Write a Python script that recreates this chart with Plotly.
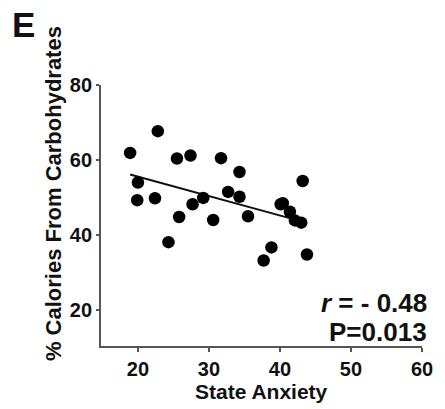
import numpy as np
import plotly.graph_objects as go

# State anxiety score vs. share of calories from carbohydrates, one point per subject
anxiety = [18.9, 22.8, 20.0, 19.9, 22.4, 25.5, 27.4, 25.8, 24.3, 27.7,
           29.2, 30.6, 31.7, 32.7, 34.3, 34.3, 35.5, 37.7, 38.8, 40.1,
           40.4, 41.4, 42.1, 43.0, 43.2, 43.8]
carbs = [61.9, 67.7, 54.0, 49.3, 49.8, 60.4, 61.2, 44.8, 38.1, 48.2,
         49.9, 44.0, 60.5, 51.5, 56.8, 50.2, 45.0, 33.2, 36.7, 48.2,
         48.5, 46.2, 43.9, 43.3, 54.4, 34.8]

x_ticks = [20, 30, 40, 50, 60]
y_ticks = [20, 40, 60, 80]

panel_label = "E"
x_title = "State Anxiety"
y_title = "% Calories From Carbohydrates"
r_text = "<i>r</i> = - 0.48"
p_text = "P=0.013"

# least-squares line over the observed range
slope, intercept = np.polyfit(anxiety, carbs, 1)
fit_x = np.array([min(anxiety), max(anxiety)])
fit_y = slope * fit_x + intercept

FONT = "Liberation Sans, Arial, sans-serif"
AXIS_COLOR = "#555555"

fig = go.Figure()
fig.add_trace(go.Scatter(
    x=fit_x, y=fit_y, mode="lines",
    line=dict(color="#111111", width=2), hoverinfo="skip", showlegend=False,
))
fig.add_trace(go.Scatter(
    x=anxiety, y=carbs, mode="markers",
    marker=dict(color="#000000", size=12.5, line=dict(width=0)),
    showlegend=False,
))

fig.update_layout(
    width=445, height=409,
    margin=dict(l=101, r=13, t=85, b=63),
    paper_bgcolor="white", plot_bgcolor="white",
    font=dict(family=FONT, color="#111111"),
    xaxis=dict(
        range=[14.8, 60], tickvals=x_ticks, showgrid=False, zeroline=False,
        showline=True, linecolor=AXIS_COLOR, linewidth=1.8,
        ticks="outside", ticklen=4, tickwidth=1.5, tickcolor=AXIS_COLOR,
        tickfont=dict(size=20, family=FONT, weight="bold", color="#111111"),
    ),
    yaxis=dict(
        range=[10.4, 80], tickvals=y_ticks, showgrid=False, zeroline=False,
        showline=True, linecolor=AXIS_COLOR, linewidth=1.8,
        ticks="outside", ticklen=3, tickwidth=1.5, tickcolor=AXIS_COLOR,
        tickfont=dict(size=20, family=FONT, weight="bold", color="#111111"),
    ),
)

text_font = dict(family=FONT, weight="bold", color="#111111")
fig.add_annotation(text=panel_label, xref="paper", yref="paper",
                   x=-0.285, y=1.232, xanchor="left", yanchor="middle",
                   showarrow=False, font=dict(size=35, **text_font))
fig.add_annotation(text=y_title, xref="paper", yref="paper",
                   x=-0.148, y=0.584, xanchor="center", yanchor="middle",
                   textangle=-90, showarrow=False, font=dict(size=22, **text_font))
fig.add_annotation(text=x_title, xref="paper", yref="paper",
                   x=0.5, y=-0.176, xanchor="center", yanchor="middle",
                   showarrow=False, font=dict(size=21, **text_font))
fig.add_annotation(text=r_text, xref="paper", yref="paper",
                   x=1.022, y=0.163, xanchor="right", yanchor="middle",
                   showarrow=False, font=dict(size=26, **text_font))
fig.add_annotation(text=p_text, xref="paper", yref="paper",
                   x=1.022, y=0.054, xanchor="right", yanchor="middle",
                   showarrow=False, font=dict(size=26, **text_font))

fig.write_html("out.html")
